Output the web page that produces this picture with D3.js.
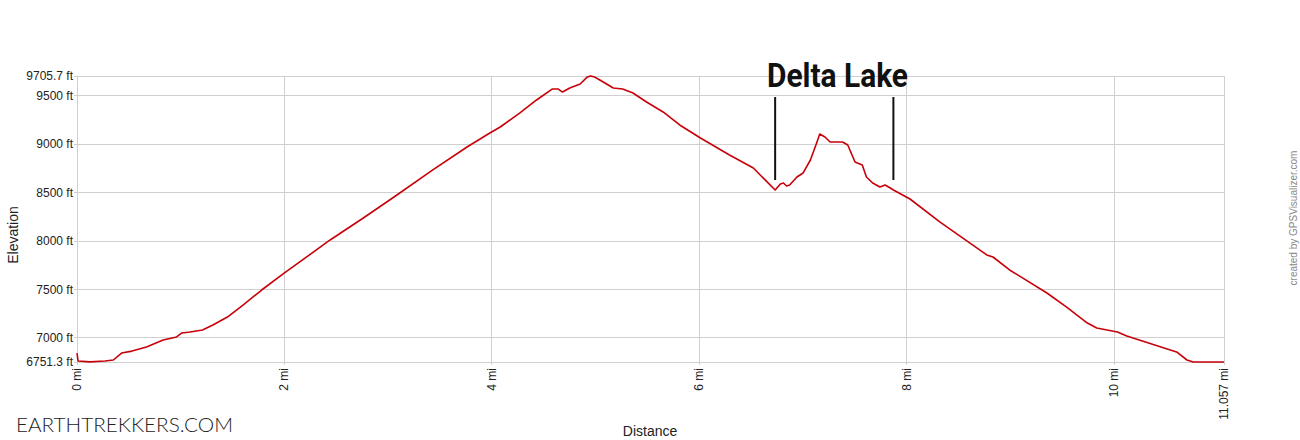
<!DOCTYPE html>
<html><head><meta charset="utf-8">
<script src="https://cdn.jsdelivr.net/npm/d3@7"></script>
<style>body{margin:0;background:#fff;} svg{display:block;}</style>
</head><body>
<svg id="chart" width="1300" height="440"></svg>
<script>
const distanceMi = [0,0.01,0.125,0.27,0.35,0.43,0.53,0.67,0.83,0.96,1.01,1.09,1.21,1.31,1.45,1.60,1.78,2.00,2.44,2.76,3.07,3.43,3.76,3.98,4.08,4.27,4.43,4.58,4.64,4.68,4.75,4.85,4.92,4.95,4.99,5.04,5.17,5.26,5.36,5.49,5.65,5.81,6.01,6.29,6.52,6.73,6.78,6.81,6.84,6.87,6.94,7.00,7.07,7.13,7.16,7.21,7.26,7.38,7.43,7.50,7.57,7.61,7.67,7.74,7.79,7.84,7.87,8.03,8.32,8.77,8.83,8.99,9.35,9.54,9.74,9.83,10.03,10.12,10.51,10.60,10.70,10.76,11.057];
const elevationFt = [6844,6762,6753,6762,6772,6844,6864,6906,6979,7010,7051,7061,7082,7134,7216,7340,7495,7671,8012,8239,8466,8735,8972,9117,9179,9324,9458,9571,9571,9540,9582,9623,9696,9705.7,9696,9665,9582,9571,9530,9437,9334,9200,9065,8890,8755,8528,8590,8600,8569,8580,8662,8704,8838,9014,9107,9076,9024,9024,8993,8817,8786,8662,8600,8559,8580,8549,8528,8435,8197,7857,7836,7702,7464,7319,7154,7102,7061,7020,6886,6855,6772,6751.3,6751.3];
const yTicks = [6751.3,7000,7500,8000,8500,9000,9500,9705.7];
const yTickLabels = ["6751.3 ft","7000 ft","7500 ft","8000 ft","8500 ft","9000 ft","9500 ft","9705.7 ft"];
const xTicks = [0,2,4,6,8,10,11.057];
const xTickLabels = ["0 mi","2 mi","4 mi","6 mi","8 mi","10 mi","11.057 mi"];
const markerMi = [6.73,7.87];
const markerFt = [8631,9489];
const annotationText = "Delta Lake";

const svg = d3.select("#chart");
const x = d3.scaleLinear().domain([0,11.057]).range([77,1224]);
const y = d3.scaleLinear().domain([6751.3,9705.7]).range([362,76]);

// grid
svg.append("g").selectAll("line").data(yTicks).join("line")
  .attr("x1",74).attr("x2",x(11.057)).attr("y1",d=>y(d)).attr("y2",d=>y(d))
  .attr("stroke","#d0d0d0").attr("stroke-width",1).attr("shape-rendering","crispEdges");
svg.append("g").selectAll("line").data(xTicks).join("line")
  .attr("x1",d=>x(d)).attr("x2",d=>x(d)).attr("y1",y(9705.7)).attr("y2",365)
  .attr("stroke","#d0d0d0").attr("stroke-width",1).attr("shape-rendering","crispEdges");

// y labels
svg.append("g").selectAll("text").data(yTicks).join("text")
  .attr("x",73).attr("y",d=>y(d)+4).attr("text-anchor","end")
  .attr("font-family","Liberation Sans, Arial, sans-serif").attr("font-size",12).attr("fill","#222")
  .text((d,i)=>yTickLabels[i]);
// x labels
svg.append("g").selectAll("text").data(xTicks).join("text")
  .attr("transform",d=>`translate(${x(d)+4},368) rotate(-90)`).attr("text-anchor","end")
  .attr("font-family","Liberation Sans, Arial, sans-serif").attr("font-size",12).attr("fill","#222")
  .text((d,i)=>xTickLabels[i]);

// axis titles
svg.append("text").attr("transform","translate(18,235) rotate(-90)").attr("text-anchor","middle")
  .attr("font-family","Liberation Sans, Arial, sans-serif").attr("font-size",14).attr("fill","#222").text("Elevation");
svg.append("text").attr("x",650).attr("y",436).attr("text-anchor","middle")
  .attr("font-family","Liberation Sans, Arial, sans-serif").attr("font-size",14).attr("fill","#222").text("Distance");
svg.append("text").attr("transform","translate(1297,218) rotate(-90)").attr("text-anchor","middle")
  .attr("font-family","Liberation Sans, Arial, sans-serif").attr("font-size",10).attr("fill","#888").text("created by GPSVisualizer.com");

// line
const line = d3.line().x(d=>x(d[0])).y(d=>y(d[1]));
svg.append("path").datum(distanceMi.map((d,i)=>[d,elevationFt[i]]))
  .attr("d",line).attr("fill","none").attr("stroke","#c8000a").attr("stroke-width",1.6).attr("stroke-linejoin","round");

// annotation
svg.append("g").selectAll("line").data(markerMi).join("line")
  .attr("x1",d=>x(d)).attr("x2",d=>x(d)).attr("y1",y(markerFt[1])).attr("y2",y(markerFt[0]))
  .attr("stroke","#111").attr("stroke-width",2);
svg.append("text").attr("x",767).attr("y",87)
  .attr("font-family","Roboto, sans-serif").attr("font-weight",700).attr("font-size",34).attr("fill","#111")
  .attr("textLength",141).attr("lengthAdjust","spacingAndGlyphs").text(annotationText);

// watermark
svg.append("text").attr("x",16).attr("y",432)
  .attr("font-family","Lato, sans-serif").attr("font-weight",300).attr("font-size",20).attr("fill","#222")
  .attr("textLength",217).attr("lengthAdjust","spacingAndGlyphs").text("EARTHTREKKERS.COM");
</script>
</body></html>
